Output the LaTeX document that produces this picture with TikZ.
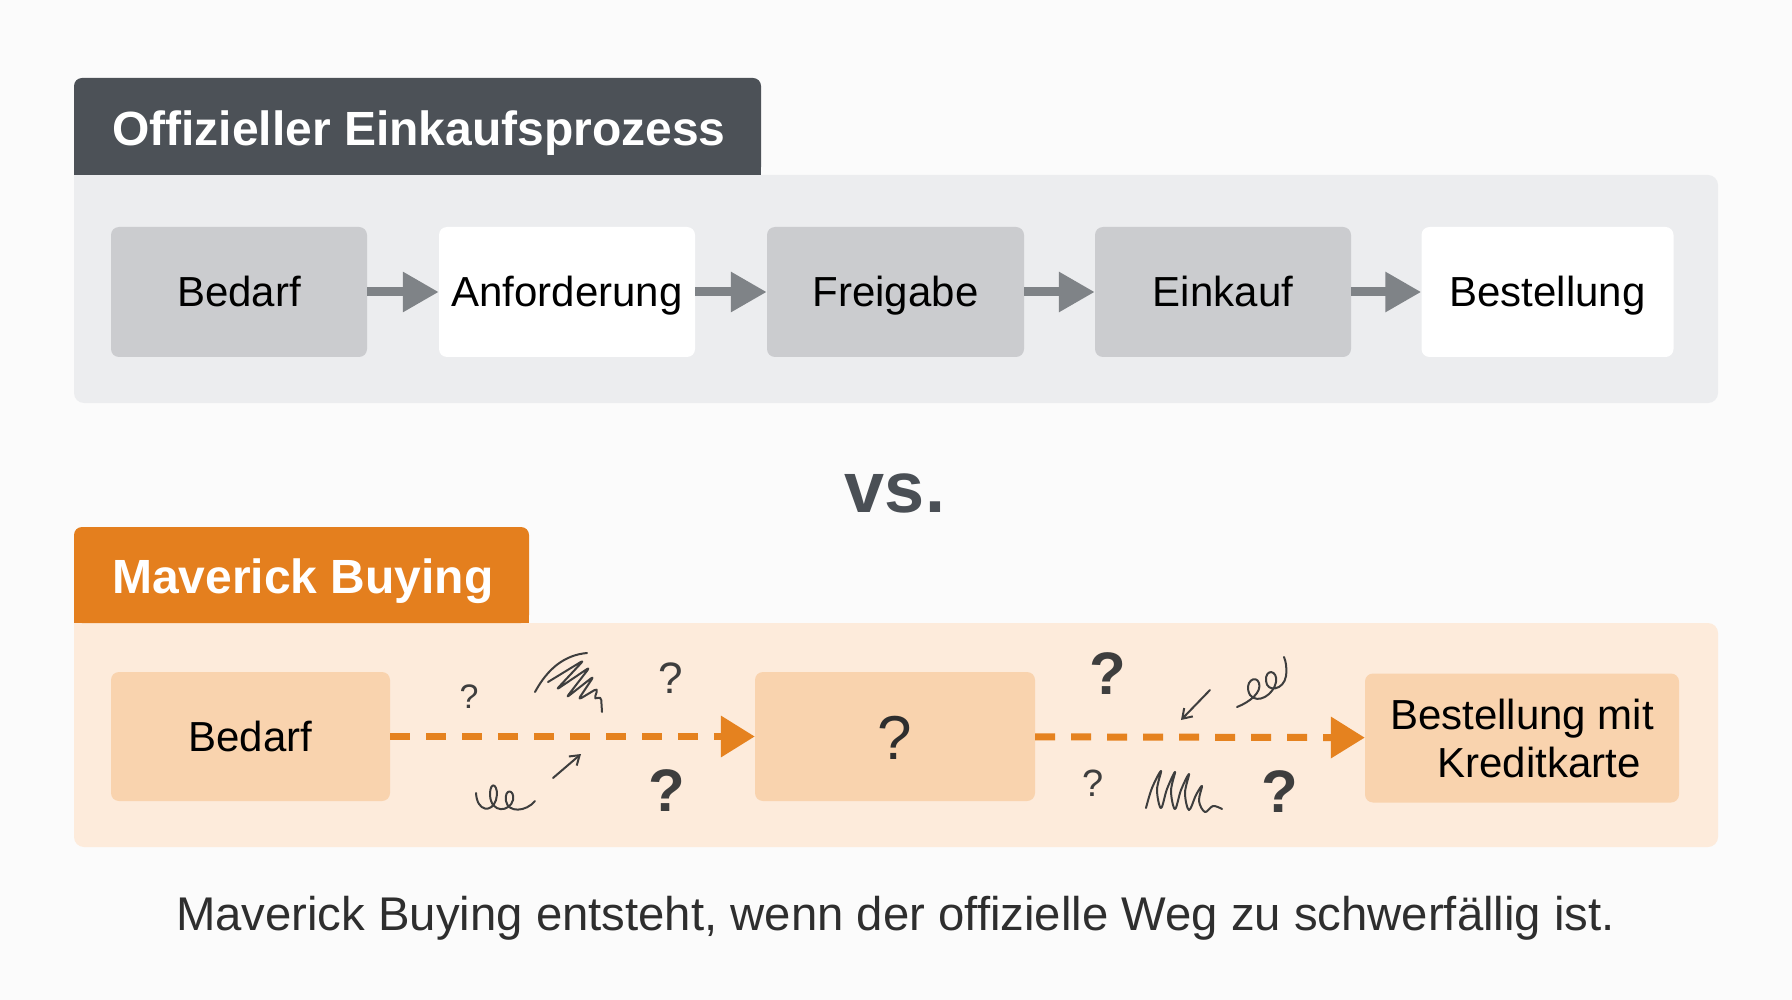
\documentclass[tikz,border=0pt]{standalone}
\usepackage{fontspec}
\setmainfont{Liberation Sans}
\usetikzlibrary{arrows.meta}
\definecolor{bg}{HTML}{FBFBFB}
\definecolor{darkhead}{HTML}{4C5157}
\definecolor{graypanel}{HTML}{ECEDEF}
\definecolor{graybox}{HTML}{CBCCCF}
\definecolor{grayarrow}{HTML}{7F8387}
\definecolor{orangehead}{HTML}{E47F1E}
\definecolor{orangepanel}{HTML}{FDEBDB}
\definecolor{orangebox}{HTML}{F9D3AE}
\definecolor{orangearrow}{HTML}{E5821F}
\definecolor{ink}{HTML}{3E3E3E}
\definecolor{vscol}{HTML}{4A4F55}
\definecolor{captioncol}{HTML}{2E2E2E}
\begin{document}
\begin{tikzpicture}[x=1pt,y=-1pt,
  procbox/.style={rounded corners=8pt, minimum height=130pt, inner sep=0pt,
    font=\fontsize{42}{48}\selectfont, text=black, align=center},
  oneline/.style={text height=30pt, text depth=0pt},
  headtext/.style={anchor=west, inner sep=0pt, text=white,
    font=\fontsize{48}{56}\selectfont\bfseries, text height=34pt, text depth=0pt},
  grayconn/.style={draw=grayarrow, line width=9pt,
    -{Triangle[length=36pt,width=38pt]}},
  orangeconn/.style={draw=orangearrow, line width=7pt, dash pattern=on 20pt off 16pt,
    -{Triangle[length=34pt,width=40pt]}},
  qmark/.style={inner sep=0pt, text=ink, text depth=0pt},
  scrib/.style={draw=ink, line width=2pt, line cap=round, line join=round},
]
\useasboundingbox[fill=bg] (0,0) rectangle (1792,1000);

% ---------- official process ----------
\fill[graypanel, rounded corners=10pt] (74,175) rectangle (1718,403);
\fill[graypanel] (74,175) rectangle (100,200);
\fill[darkhead, rounded corners=8pt] (74,78) rectangle (761,175);
\fill[darkhead] (74,150) rectangle (761,175);
\node[headtext] (t1) at (112,128.5) {Offizieller Einkaufsprozess};

\node[procbox, oneline, fill=graybox, minimum width=256pt] (o1) at (239,292) {Bedarf};
\node[procbox, oneline, fill=white,   minimum width=256pt] (o2) at (567,292) {Anforderung};
\node[procbox, oneline, fill=graybox, minimum width=257pt] (o3) at (895.5,292) {Freigabe};
\node[procbox, oneline, fill=graybox, minimum width=256pt] (o4) at (1223,292) {Einkauf};
\node[procbox, oneline, fill=white,   minimum width=252pt] (o5) at (1547.5,292) {Bestellung};

\draw[grayconn] (o1) -- (o2);
\draw[grayconn] (o2) -- (o3);
\draw[grayconn] (o3) -- (o4);
\draw[grayconn] (o4) -- (o5);

% ---------- vs ----------
\node[inner sep=0pt, text=vscol, font=\fontsize{72}{80}\selectfont\bfseries] (vs) at (895,493) {vs.};

% ---------- maverick buying ----------
\fill[orangepanel, rounded corners=10pt] (74,623) rectangle (1718,847);
\fill[orangepanel] (74,623) rectangle (100,648);
\fill[orangehead, rounded corners=8pt] (74,527) rectangle (529,623);
\fill[orangehead] (74,600) rectangle (529,623);
\node[headtext] (t2) at (112,576.6) {Maverick Buying};

\node[procbox, oneline, fill=orangebox, minimum width=279pt, minimum height=129pt] (m1) at (250.5,736.5) {Bedarf};
\node[procbox, fill=orangebox, minimum width=280pt, minimum height=129pt,
      font=\fontsize{62}{68}\selectfont, text=captioncol, text height=45pt, text depth=0pt] (m2) at (895,736.5) {?};
\node[procbox, fill=orangebox, minimum width=314pt, minimum height=129pt] (m3) at (1522,738)
      {Bestellung mit\\\hspace*{34pt}Kreditkarte};

\draw[orangeconn] (m1) -- (m2);
\draw[orangeconn] (m2) -- (m3);

% question marks
\node[qmark, font=\fontsize{34}{40}\selectfont] (q1) at (469,697) {?};
\node[qmark, font=\fontsize{44}{50}\selectfont] (q2) at (671,678) {?};
\node[qmark, font=\fontsize{60}{66}\selectfont\bfseries] (q3) at (667,791) {?};
\node[qmark, font=\fontsize{60}{66}\selectfont\bfseries] (q4) at (1108,674) {?};
\node[qmark, font=\fontsize{38}{44}\selectfont] (q5) at (1093,783) {?};
\node[qmark, font=\fontsize{60}{66}\selectfont\bfseries] (q6) at (1280,792) {?};

% scribble 1
\draw[scrib] (535,692) .. controls (548,668) and (565,655) .. (587,653);
\draw[scrib, rounded corners=4pt] (548,682) -- (584,660) -- (556,690) -- (590,667) -- (566,698)
   -- (594,676) -- (578,700) -- (598,688) -- (594,700) -- (601,696) -- (602,712);
% loops lower left
\draw[scrib] (476,793) .. controls (477,812) and (492,813) .. (496,800)
   .. controls (500,786) and (490,778) .. (490,795)
   .. controls (491,814) and (510,812) .. (513,800)
   .. controls (515,789) and (504,788) .. (506,801)
   .. controls (508,813) and (526,812) .. (535,801);
% small arrow up-right
\draw[scrib, -{Straight Barb[length=9pt,width=12pt]}] (553,778) -- (581,754);

% loops upper right
\draw[scrib] (1237,707) .. controls (1250,702) and (1262,692) .. (1259,683)
   .. controls (1256,674) and (1243,682) .. (1250,695)
   .. controls (1258,705) and (1274,694) .. (1276,682)
   .. controls (1278,670) and (1265,668) .. (1266,681)
   .. controls (1267,693) and (1284,690) .. (1286,676)
   .. controls (1287,668) and (1286,662) .. (1284,657);
% small arrow down-left
\draw[scrib, -{Straight Barb[length=9pt,width=12pt]}] (1210,690) -- (1181,720);
% scribble llll
\draw[scrib] plot[smooth, tension=0.6] coordinates {(1146,808) (1152,788) (1161,771) (1157,790) (1161,808)
  (1167,789) (1175,772) (1171,791) (1175,809) (1181,790) (1189,774) (1185,793) (1189,810)
  (1196,795) (1202,786) (1199,801) (1205,812) (1213,806) (1222,809)};

% caption
\node[inner sep=0pt, text=captioncol, font=\fontsize{47.3}{53}\selectfont, text height=34pt, text depth=0pt]
  (cap) at (895.5,913) {Maverick Buying entsteht, wenn der offizielle Weg zu schwerfällig ist.};
\end{tikzpicture}
\end{document}
